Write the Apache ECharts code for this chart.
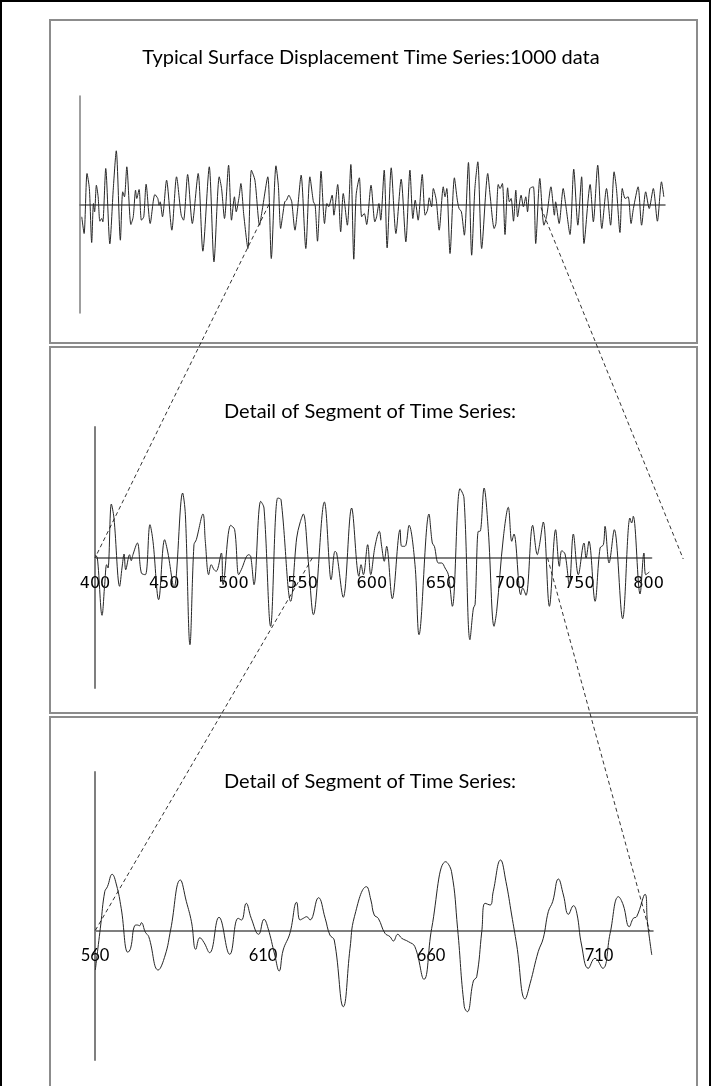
<!DOCTYPE html>
<html><head><meta charset="utf-8">
<script src="https://cdn.jsdelivr.net/npm/echarts@6/dist/echarts.min.js"></script>
<style>html,body{margin:0;padding:0;background:#fff}#c{width:712px;height:1086px}</style>
</head><body><div id="c"></div>
<script>
// ---------- text ----------
const panelTitles = [
  'Typical Surface Displacement Time Series:1000 data',
  'Detail of Segment of Time Series:',
  'Detail of Segment of Time Series:'
];
// ---------- tick labels ----------
const panel2Ticks = [400, 450, 500, 550, 600, 650, 700, 750, 800];
const panel3Ticks = [560, 610, 660, 710];

// ---------- series values [sample index, displacement] ----------
const panel1Series = [
[3,-1.23],[7,-2.9],[12,3.1],[16,1.6],[20,-3.8],[23,0.1],[25,-0.73],[28,1.93],[31,0.77],[34,-1.67],[37,-1.4],[39,-1.73],[44,3.6],[51,-3.93],[57,1.67],[62,5.37],[69,-3.57],[73,1.27],[76,0.77],[80,3.77],[87,-2.0],[91,-1.23],[95,1.43],[97,0.6],[101,1.5],[105,-1.57],[109,-1.23],[113,2.03],[120,-1.9],[128,1.0],[133,0.6],[135,-0.07],[137,0.27],[141,-1.23],[148,2.43],[157,-2.57],[165,2.77],[173,-1.07],[177,-1.57],[184,3.0],[192,-1.9],[202,3.1],[210,-4.67],[221,3.77],[229,-5.73],[238,2.77],[242,1.6],[247,-1.4],[254,3.93],[259,-1.57],[264,0.77],[267,-0.73],[272,0.77],[275,2.1],[280,-1.07],[287,-4.4],[293,3.43],[299,2.43],[307,-2.07],[311,-0.73],[321,2.77],[327,-5.4],
[335,3.87],[339,1.93],[343,-2.4],[346.5,-1.07],[350,0.27],[353,0.43],[357,0.93],[360,0.6],[362,0.27],[367.5,-2.57],[371.5,-0.73],[378,2.93],[386,-4.4],[393,2.77],[399,0.27],[402,-0.07],[406,-3.67],[409,-0.57],[412,3.33],[418,-1.9],[422,0.1],[425,-0.23],[431,0.93],[434,-1.07],[440.5,2.0],[445.6,-2.73],[450,1.1],[457,-2.07],[463,4.0],[468,-5.47],[472,0.93],[477.5,2.67],[481.5,-1.23],[486,-0.9],[490,-2.0],[497.5,1.93],[504,-1.73],[507,-1.23],[511,0.1],[514,-1.57],[520,3.43],[525,-4.33],[532,3.67],[540,-2.9],[549,2.53],[557,-3.73],[564,3.43],[569,-1.4],[573,0.43],[578,-1.57],[585,3.0],[590,-1.07],[594,-0.57],[597,0.67],[601,-0.23],[604,1.6],[609,0.43],[614,-2.57],[621,1.77],[624,0.77],[627,1.6],[632.5,-4.9],[640,2.67],[645,0.43],[648,-0.4],[652,-0.73],[657,-3.07],[664,4.2],
[669.5,-5.07],[675,1.6],[680,4.27],[686.6,-4.4],[697,3.1],[701,0.93],[708,-2.4],[711,-1.9],[715,2.0],[718,1.6],[722,2.1],[726.5,-3.0],[731,1.67],[734,0.27],[737,0.6],[741,-1.67],[745,1.43],[748,-1.23],[754,0.93],[758,-0.23],[762,0.77],[765,-0.73],[769,1.6],[775,1.77],[779,-3.9],[786,2.6],[793,-2.07],[798,-1.07],[805,1.77],[811,-1.07],[813,0.27],[819,-1.9],[826,1.6],[830,0.1],[837.6,-3.0],[844,3.53],[851,-2.07],[857.5,2.77],[861.5,-3.9],[872,2.0],[877.5,-1.73],[885,3.93],[892,-2.4],[900,1.6],[907,-2.07],[913,3.27],[917,1.6],[923,-2.8],[927,1.6],[932,0.6],[937,0.77],[942,-1.9],[946,-0.4],[954,1.77],[960,-2.07],[967,1.27],[973,-0.4],[980,1.6],[987,-1.67],[994,2.27],[998,0.77]
];

const panel2Series = [
[400,0.33],[401.7,0],[405.1,-5.73],[407,-2.67],[408.4,-0.67],[409.4,-1.0],[411.8,5.4],[413.7,4.0],[417.8,-2.83],[419.5,-1.0],[421,0.4],[422.2,-1.17],[425,0.33],[426.2,-0.27],[427.4,0.33],[430.6,1.5],[433.5,-1.5],[436.4,-1.67],[439.7,3.33],[441.9,1.67],[446,-4.17],[450.3,1.83],[452.7,0.5],[457.1,-3.0],[463.3,6.5],[465.3,4.33],[468.6,-8.67],[471.5,1.33],[473.2,1.83],[478,4.4],[479.7,1.67],[482.1,-1.67],[484,-0.67],[486,-1.17],[487.6,-1.33],[491.3,0.5],[492.5,-2.67],[498,3.27],[500.9,2.83],[503.8,-1.67],[505.7,-1.17],[511,0.33],[512.5,0.17],[514.9,-2.67],[519.7,5.67],[522.1,5.0],[526.9,-6.83],[532,6.0],[534.4,5.83],[541.4,-4.33],[545.7,2.0],[548.1,3.5],[550.5,4.4],[554.1,-0.33],[557.8,-5.67],[565.7,5.6],[569.8,-1.67],[570.5,-2.17],[573.4,0.67],[574.6,0.5],[579.4,-3.93],[585.4,5.0],[590.7,-1.83],[592.2,-0.67],[593.9,-1.67],[597,1.33],[599.2,-1.67],[602.3,1.17],[605.4,2.67],[607.1,1.17],[609,-0.33],[610.7,1.17],[614.8,-4.07],[620.4,2.83],[621.6,1.17],[624,1.17],[626.9,3.27],[631.2,-0.67],[634.1,-7.67],[641.3,4.4],[643.7,1.5],[645.2,1.17],[648.1,-0.5],[650.5,-0.5],[652.9,-1.0],[655.3,-1.67],[658.2,-4.83],[663.7,6.93],[666.6,6.0],[670.9,-8.17],[673.4,-5.0],[674.6,-4.67],[677,2.67],[678.2,2.67],[681.1,7.0],[684.2,2.67],[688.3,-6.83],[690.2,-5.33],[695,2.0],[698.6,5.07],[701.1,1.67],[702.7,2.4],[707.6,-3.67],[709,-3.0],[711.4,-3.73],[716.2,3.27],[719.6,0.33],[721,1.17],[723.9,3.6],[728.3,-4.83],[732.8,2.83],[735.5,-0.83],[737.2,0.73],[739.6,0.4],[742.7,-2.67],[745.6,2.4],[749.2,-1.67],[753.3,1.5],[754.8,0],[756.9,1.67],[761.3,-4.33],[764.9,1.0],[767.3,1.33],[768.5,3.17],[771.4,-0.5],[775.2,2.83],[781.2,-6.07],[786.5,4.0],[787.7,3.5],[788.9,4.17],[793.8,-3.6],[796.6,0.5],[797.9,-1.67],[800.5,-1.4]
];

const panel3Series = [
[560.1,-3.9],[561.7,0.6],[562.9,3.93],[563.7,4.43],[565.1,5.67],[566.4,4.6],[567.8,2.27],[569.8,-2.13],[570.6,-1.73],[571.8,0.53],[572.6,0.6],[573.3,0.53],[573.8,0.83],[575,-0.13],[576,-0.57],[578.8,-3.9],[580.9,-2.4],[582.5,0.1],[585.4,5.1],[587.2,2.93],[588.7,0.93],[590,-1.83],[591.2,-0.67],[592.4,-1.13],[594.1,-2.17],[596.9,1.37],[600.1,-2.33],[602.6,1.27],[603.6,1.1],[605,2.77],[606.5,1.27],[608.7,-0.33],[610.3,1.17],[611.5,0.27],[613.5,-2.4],[614.8,-4.0],[616,-1.9],[618,-0.23],[620,2.87],[621,1.1],[622,1.27],[623,1.43],[624,1.1],[626.5,3.33],[628.5,1.27],[629.9,-0.4],[631.2,-0.9],[633.9,-7.57],[635.9,-1.73],[637.2,1.43],[640.8,4.43],[642.1,3.1],[643.1,1.6],[644.3,1.27],[646.3,-0.23],[647.8,-0.57],[648.8,-1.0],[650.1,-0.33],[651.3,-0.73],[653.3,-1.07],[655.2,-1.57],[657.9,-4.83],[660.2,0.27],[664.4,6.93],[666.1,5.93],[667.9,0.27],[669.9,-7.57],[670.8,-8.07],[672.6,-5.0],[673.6,-4.57],[675.1,-0.07],[676.1,2.77],[677.6,2.6],[678.5,3.93],[680.7,7.1],[682.3,4.93],[684,1.6],[685.5,-1.4],[688,-6.8],[689.5,-5.23],[691.9,-2.07],[693.4,-0.73],[694.9,1.93],[696.2,2.93],[697.9,5.2],[699.4,3.6],[700.9,1.67],[702.4,2.53],[703.4,1.77],[704.8,-1.4],[706.8,-3.73],[708.8,-2.73],[711.1,-3.73],[713.3,-0.23],[715.8,3.43],[717.2,2.6],[719,0.43],[720.2,1.27],[721.2,1.43],[723.7,3.67],[724.4,0.93],[725.7,-2.4]
];

// zoom connectors: [fromGrid, fromX, fromY, toGrid, toX, toY] in data units
const connectorA = [0, 323, 0, 1, 400, 0];
const connectorB = [0, 788, -0.3, 1, 825, -0.1];
const connectorC = [1, 557, 0, 2, 560, 0];
const connectorD = [1, 727, 0, 2, 725, 0];

// ---------- layout ----------
const grids = [
  {left: 80, top: 96, width: 585, height: 217},
  {left: 95, top: 427, width: 556.4, height: 261},
  {left: 95, top: 772, width: 557.8, height: 288}
];
const yRanges = [[-10.85, 10.85], [-13.0, 13.1], [-12.9, 15.9]];

// ---------- chart ----------
const chart = echarts.init(document.getElementById('c'), null, {renderer: 'canvas'});
const dataColor = '#262626';
const axisGray = '#7f7f7f';
const hidden = {show: false};

function zeroOffset(i) { // move the x axis up from the grid bottom to y = 0
  const r = yRanges[i];
  return -grids[i].height * (0 - r[0]) / (r[1] - r[0]);
}
function xAx(i, min, max, label, color, w) {
  return {
    gridIndex: i, type: 'value', min: min, max: max, position: 'bottom', offset: zeroOffset(i),
    axisLine: {show: true, onZero: false, lineStyle: {color: color, width: w}},
    axisTick: hidden, splitLine: hidden,
    axisLabel: label || hidden
  };
}
function yAx(i, color, w) {
  return {
    gridIndex: i, type: 'value', min: yRanges[i][0], max: yRanges[i][1],
    axisLine: {show: true, onZero: false, lineStyle: {color: color, width: w}},
    axisTick: hidden, splitLine: hidden, axisLabel: hidden
  };
}
function lineSeries(i, data, smooth) {
  return {
    type: 'line', xAxisIndex: i, yAxisIndex: i, data: data,
    showSymbol: false, symbol: 'none', smooth: smooth,
    lineStyle: {color: dataColor, width: 1}, z: 3
  };
}

chart.setOption({
  animation: false,
  backgroundColor: '#fff',
  grid: grids,
  xAxis: [
    xAx(0, 0, 1000, null, '#595959', 1.5),
    xAx(1, 400, 802, {show: true, customValues: panel2Ticks, fontFamily: 'DejaVu Sans', fontSize: 16, color: '#000', margin: 18}, axisGray, 2),
    xAx(2, 560, 726, {show: true, customValues: panel3Ticks, fontFamily: 'Lato', fontSize: 16.5, color: '#000', margin: 16}, axisGray, 2)
  ],
  yAxis: [
    yAx(0, '#7f7f7f', 1.5),
    yAx(1, axisGray, 2),
    yAx(2, axisGray, 2)
  ],
  series: [
    lineSeries(0, panel1Series, 0.25),
    lineSeries(1, panel2Series, 0.35),
    lineSeries(2, panel3Series, 0.45)
  ]
});

const titleFont = {fontFamily: 'Lato', fontSize: 20, fill: '#000', align: 'center', verticalAlign: 'middle'};
const graphics = [
  {type: 'rect', shape: {x: 1, y: 1, width: 709, height: 1090}, style: {fill: 'transparent', stroke: '#000', lineWidth: 2}, z: 1},
  {type: 'rect', shape: {x: 50, y: 20, width: 647, height: 323}, style: {fill: 'transparent', stroke: '#8c8c8c', lineWidth: 2}, z: 1},
  {type: 'rect', shape: {x: 50, y: 347, width: 647, height: 366}, style: {fill: 'transparent', stroke: '#8c8c8c', lineWidth: 2}, z: 1},
  {type: 'rect', shape: {x: 50, y: 717, width: 647, height: 400}, style: {fill: 'transparent', stroke: '#8c8c8c', lineWidth: 2}, z: 1},
  {type: 'text', x: 371, y: 58, style: Object.assign({text: panelTitles[0]}, titleFont), z: 5},
  {type: 'text', x: 370, y: 412, style: Object.assign({text: panelTitles[1]}, titleFont), z: 5},
  {type: 'text', x: 370, y: 782, style: Object.assign({text: panelTitles[2]}, titleFont), z: 5}
];
[connectorA, connectorB, connectorC, connectorD].forEach(function (c) {
  const p1 = chart.convertToPixel({gridIndex: c[0]}, [c[1], c[2]]);
  const p2 = chart.convertToPixel({gridIndex: c[3]}, [c[4], c[5]]);
  graphics.push({type: 'line', shape: {x1: p1[0], y1: p1[1], x2: p2[0], y2: p2[1]},
    style: {stroke: '#000', lineWidth: 0.8, lineDash: [4, 3]}, z: 4});
});
chart.setOption({graphic: graphics});
</script>
</body></html>
